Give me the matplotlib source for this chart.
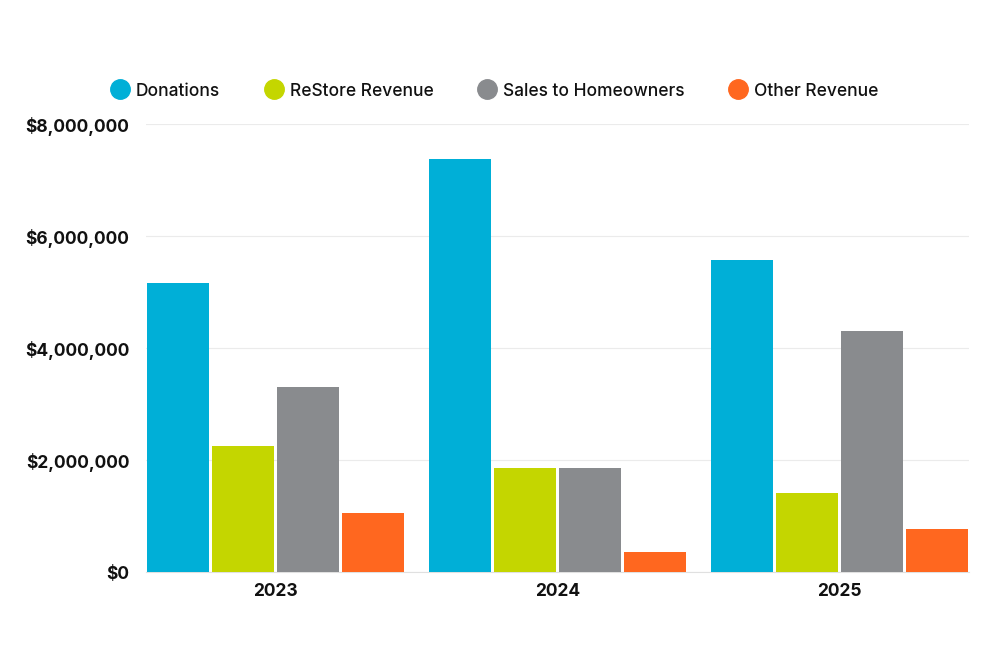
import matplotlib.pyplot as plt
from matplotlib.lines import Line2D
from matplotlib.ticker import FuncFormatter
import numpy as np

plt.rcParams["font.family"] = ["Inter", "DejaVu Sans"]

# ─── Data ─────────────────────────────────────────────────────────────────────
years = ["2023", "2024", "2025"]
series_names = ["Donations", "ReStore Revenue", "Sales to Homeowners", "Other Revenue"]
donations = [5_160_000, 7_380_000, 5_580_000]
restore = [2_260_000, 1_860_000, 1_420_000]
sales = [3_300_000, 1_860_000, 4_300_000]
other = [1_050_000, 370_000, 770_000]
colors = ["#00AFD7", "#C4D600", "#898B8E", "#FF671F"]

# ─── Plot ─────────────────────────────────────────────────────────────────────
fig = plt.figure(figsize=(10, 6.66), dpi=100)
ax = fig.add_axes([0.146, 0.1407, 0.823, 0.6727])

x = np.arange(len(years))
slot = 0.2305
bar_w = 0.22
for i, (vals, col) in enumerate(zip([donations, restore, sales, other], colors)):
    offs = (i - 1.5) * slot
    ax.bar(x + offs, vals, width=bar_w, color=col, zorder=3)

ax.set_xlim(-2 * slot, len(years) - 1 + 2 * slot)
ax.set_ylim(0, 8_000_000)
ax.set_yticks(np.arange(0, 8_000_001, 2_000_000))
ax.yaxis.set_major_formatter(FuncFormatter(lambda v, _: f"${v:,.0f}"))
ax.set_xticks(x)
ax.set_xticklabels(years)

ax.grid(axis="y", color="#ebebeb", linewidth=0.8, zorder=0)
for side in ["top", "right", "left"]:
    ax.spines[side].set_visible(False)
ax.spines["bottom"].set_color("#e0e0e0")
ax.spines["bottom"].set_linewidth(0.8)

ax.tick_params(axis="both", length=0, labelsize=12.5, labelcolor="#111111")
ax.tick_params(axis="y", pad=12)
ax.tick_params(axis="x", pad=8)
for lbl in ax.get_yticklabels() + ax.get_xticklabels():
    lbl.set_fontweight("bold")

handles = [Line2D([], [], marker="o", linestyle="none", markersize=14,
                  markerfacecolor=c, markeredgecolor=c) for c in colors]
leg = fig.legend(handles, series_names, loc="center", bbox_to_anchor=(0.494, 1 - 91 / 666),
                 ncol=4, frameon=False, fontsize=12.5, handletextpad=0.3,
                 columnspacing=2.5, handlelength=1.2)
for t in leg.get_texts():
    t.set_fontweight("medium")
    t.set_color("#111111")

plt.savefig("out.png", dpi=100)
